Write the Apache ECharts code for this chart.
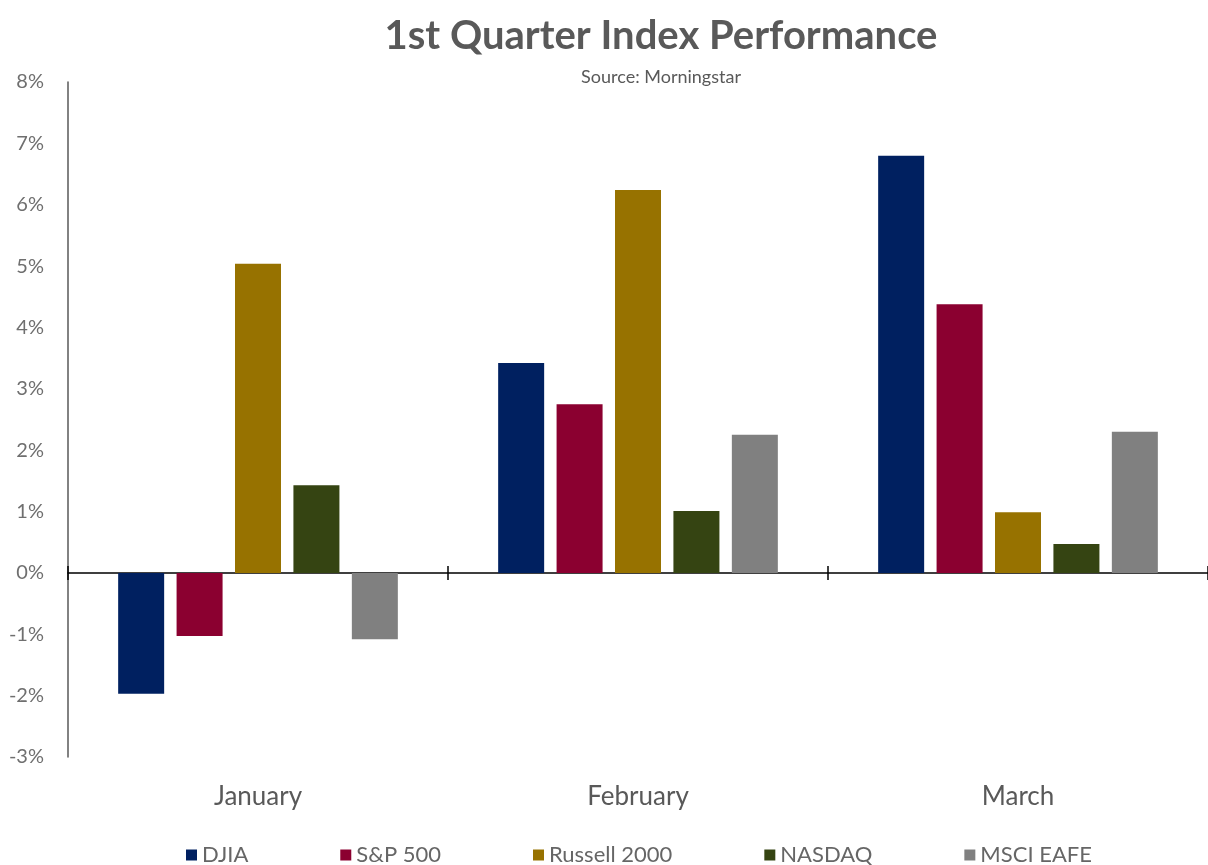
<!DOCTYPE html>
<html>
<head>
<meta charset="utf-8">
<script src="https://cdn.jsdelivr.net/npm/echarts@6/dist/echarts.min.js"></script>
<style>html,body{margin:0;padding:0;background:#fff}#c{width:1208px;height:865px}</style>
</head>
<body>
<div id="c"></div>
<script>
var categories = ['January', 'February', 'March'];
var seriesNames = ['DJIA', 'S&P 500', 'Russell 2000', 'NASDAQ', 'MSCI EAFE'];
var djia = [-1.97, 3.42, 6.80];
var sp500 = [-1.03, 2.75, 4.38];
var russell2000 = [5.04, 6.24, 0.99];
var nasdaq = [1.43, 1.01, 0.47];
var msciEafe = [-1.08, 2.25, 2.30];
var colors = ['#002060', '#8B0030', '#977200', '#354412', '#808080'];
var FONT = 'Lato';

var chart = echarts.init(document.getElementById('c'));
var values = [djia, sp500, russell2000, nasdaq, msciEafe];
var series = seriesNames.map(function (n, i) {
  return {
    name: n, type: 'bar', xAxisIndex: 0, yAxisIndex: 0,
    data: values[i], barWidth: 46, barGap: '27%',
    itemStyle: { color: colors[i] }
  };
});
chart.setOption({
  animation: false,
  color: colors,
  title: [
    { text: '1st Quarter Index Performance', left: 656, top: 11, textAlign: 'center',
      textStyle: { fontFamily: FONT, fontSize: 40, fontWeight: 'bold', color: '#595959' } },
    { text: 'Source: Morningstar', left: 656, top: 63, textAlign: 'center',
      textStyle: { fontFamily: FONT, fontSize: 18, fontWeight: 'normal', color: '#595959' } }
  ],
  legend: {
    left: 181, top: 839, icon: 'rect', itemWidth: 11, itemHeight: 11, itemGap: 92,
    textStyle: { fontFamily: FONT, fontSize: 22, color: '#666' },
    data: seriesNames
  },
  grid: { left: 68, right: -3, top: 82, bottom: 108, containLabel: false },
  xAxis: [
    { type: 'category', data: categories, position: 'bottom',
      axisLine: { show: false, onZero: false }, axisTick: { show: false },
      axisLabel: { margin: 27, fontFamily: FONT, fontSize: 26, color: '#595959' } },
    { type: 'category', data: categories, position: 'bottom',
      axisLine: { show: true, onZero: true, onZeroAxisIndex: 0, lineStyle: { color: '#000', width: 1.5 } },
      axisTick: { show: true, inside: false, length: 7, lineStyle: { color: '#000', width: 1.5 } },
      axisLabel: { show: false } },
    { type: 'category', data: categories, position: 'bottom',
      axisLine: { show: false, onZero: true, onZeroAxisIndex: 0 },
      axisTick: { show: true, inside: true, length: 7, lineStyle: { color: '#000', width: 1.5 } },
      axisLabel: { show: false } }
  ],
  yAxis: {
    type: 'value', min: -3, max: 8, interval: 1,
    axisLine: { show: true, lineStyle: { color: '#595959', width: 1.5 } },
    axisTick: { show: false }, splitLine: { show: false },
    axisLabel: { formatter: '{value}%', margin: 24, fontFamily: FONT, fontSize: 20, color: '#6f6f6f' }
  },
  series: series
});
</script>
</body>
</html>
